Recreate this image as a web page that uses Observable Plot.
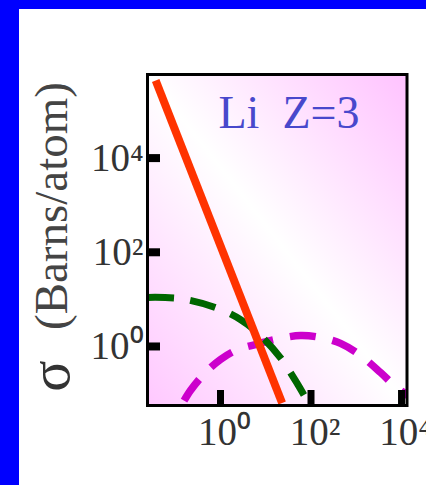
<!DOCTYPE html>
<html>
<head>
<meta charset="utf-8">
<script src="https://cdn.jsdelivr.net/npm/d3@7"></script>
<script src="https://cdn.jsdelivr.net/npm/@observablehq/plot@0.6"></script>
<style>
  html, body { margin: 0; padding: 0; background: #0000ff; width: 426px; height: 485px; overflow: hidden; }
  #panel { position: absolute; left: 19px; top: 9px; width: 407px; height: 476px; background: #ffffff; overflow: hidden; }
</style>
</head>
<body>
<div id="panel"></div>
<script>
// Tick values and labels
const xTickValues = [1, 100, 10000];
const xTickLabels = ["10\u2070", "10\u00b2", "10\u2074"];
const yTickValues = [1, 100, 10000];
const yTickLabels = ["10\u2070", "10\u00b2", "10\u2074"];

// Red (solid) series
const redE = [0.037, 23];
const redSigma = [446000, 0.063];

// Green (dashed) series
const greenE = [0.024, 0.13, 0.78, 2.8, 7.7, 21, 45, 98];
const greenSigma = [11, 10.4, 6.7, 3.7, 1.7, 0.58, 0.19, 0.053];

// Magenta (dashed) series
const magentaE = [0.118, 0.217, 0.466, 1.0, 2.15, 5.94, 16.4, 58.6, 162, 449, 1242, 3436, 7364, 15800];
const magentaSigma = [0.044, 0.116, 0.28, 0.53, 0.82, 1.10, 1.41, 1.71, 1.55, 1.16, 0.644, 0.28, 0.1415, 0.083];

const titleText = "Li\u00a0 Z=3";
const yLabelSymbol = "\u03c3";
const yLabelUnit = "(Barns/atom)";

const red = redE.map((e, i) => ({e, s: redSigma[i]}));
const green = greenE.map((e, i) => ({e, s: greenSigma[i]}));
const magenta = magentaE.map((e, i) => ({e, s: magentaSigma[i]}));
const xTicks = xTickValues.map((v, i) => ({v, label: xTickLabels[i]}));
const yTicks = yTickValues.map((v, i) => ({v, label: yTickLabels[i]}));

const serif = "'Liberation Serif', 'Times New Roman', serif";
const W = 407, H = 476;
const mL = 128, mR = 19.5, mT = 65, mB = 80;
const plotW = W - mL - mR, plotH = H - mT - mB;

const chart = Plot.plot({
  width: W,
  height: H,
  marginLeft: mL,
  marginRight: mR,
  marginTop: mT,
  marginBottom: mB,
  style: {background: "transparent", overflow: "visible"},
  x: {type: "log", domain: [0.0244, 13210], axis: null},
  y: {type: "log", domain: [0.0558, 595700], axis: null},
  marks: [
    Plot.frame({fill: "url(#bg)", stroke: "none"}),
    Plot.line(magenta, {x: "e", y: "s", stroke: "#cc00cc", strokeWidth: 7.5, strokeLinecap: "butt",
      strokeDasharray: "26,17", strokeDashoffset: 31.8, curve: "catmull-rom", clip: true}),
    Plot.line(green, {x: "e", y: "s", stroke: "#006600", strokeWidth: 7, strokeLinecap: "butt",
      strokeDasharray: "26,16.5", strokeDashoffset: -0.8, curve: "catmull-rom", clip: true}),
    Plot.line(red, {x: "e", y: "s", stroke: "#ff3300", strokeWidth: 8, strokeLinecap: "butt", clip: true}),
    Plot.tickX(xTicks, {x: "v", stroke: "black", strokeWidth: 7, insetTop: plotH - 15}),
    Plot.tickY(yTicks, {y: "v", stroke: "black", strokeWidth: 8, insetRight: plotW - 13}),
    Plot.frame({stroke: "black", strokeWidth: 3, fill: "none"}),
    Plot.text(xTicks, {x: "v", text: "label", frameAnchor: "bottom", lineAnchor: "top", dy: 12, dx: 4,
      fontSize: 39, fontFamily: serif, fill: "#333"}),
    Plot.text(yTicks, {y: "v", text: "label", frameAnchor: "left", textAnchor: "end", dx: -4,
      fontSize: 39, fontFamily: serif, fill: "#333"}),
    Plot.text([yLabelUnit], {text: d => d, frameAnchor: "left", textAnchor: "middle", rotate: -90, dx: -96, dy: -34,
      fontSize: 47, fontFamily: serif, fill: "#444"}),
    Plot.text([yLabelSymbol], {text: d => d, frameAnchor: "left", textAnchor: "middle", rotate: -90, dx: -97, dy: 136,
      fontSize: 58, fontFamily: serif, fill: "#333"}),
    Plot.text([titleText], {text: d => d, frameAnchor: "top-left", textAnchor: "start", lineAnchor: "top",
      dx: 71, dy: 21, fontSize: 46, fontFamily: serif, fill: "#4848cc"})
  ]
});

const defs = d3.select(chart).insert("defs", ":first-child");
const grad = defs.append("linearGradient").attr("id", "bg")
  .attr("x1", 0).attr("y1", 1).attr("x2", 1).attr("y2", 0);
grad.append("stop").attr("offset", 0).attr("stop-color", "#ffc8ff");
grad.append("stop").attr("offset", 0.5).attr("stop-color", "#ffffff");
grad.append("stop").attr("offset", 1).attr("stop-color", "#ffc2ff");

document.getElementById("panel").appendChild(chart);
</script>
</body>
</html>
